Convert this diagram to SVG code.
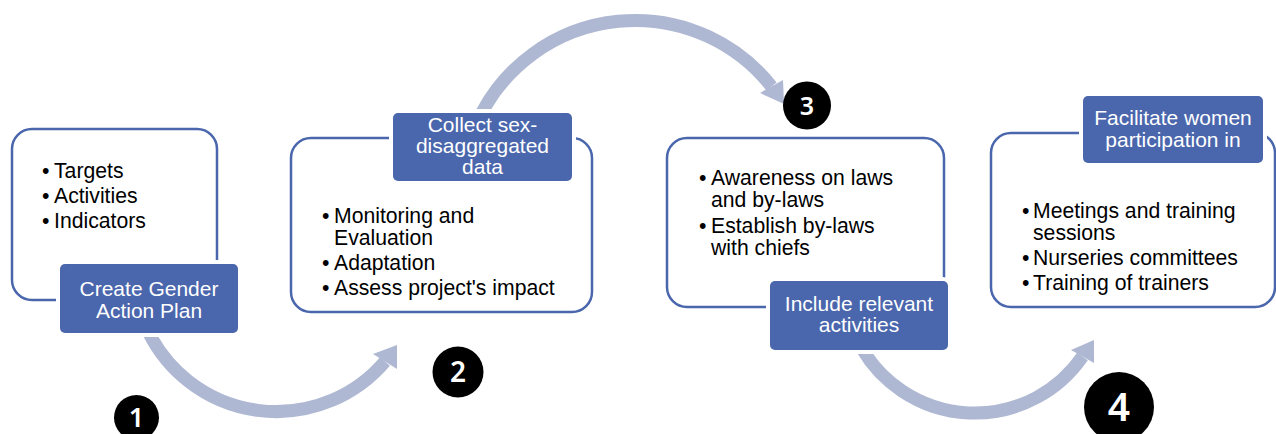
<svg xmlns="http://www.w3.org/2000/svg" width="1276" height="434" viewBox="0 0 1276 434">
  <style>
    .frame{fill:none;stroke:#4a66ac;stroke-width:2.5}
    .tag{fill:#4a66ac;stroke:#fff;stroke-width:8;paint-order:stroke}
    .tag-text{font-family:"Liberation Sans",Arial,sans-serif;font-size:21px;fill:#fff;text-anchor:middle}
    .item{font-family:"Liberation Sans",Arial,sans-serif;font-size:21.2px;fill:#000}
    .flow{fill:none;stroke:#afb8d3;stroke-width:13}
    .head{fill:#afb8d3}
    .badge{fill:#000}
    .num{font-family:"Noto Sans",sans-serif;font-weight:600;fill:#fff;text-anchor:middle}
  </style>
  <defs>
    <clipPath id="cut-low1"><rect x="0" y="336" width="1276" height="98"/></clipPath>
    <clipPath id="cut-high"><rect x="0" y="0" width="1276" height="109"/></clipPath>
    <clipPath id="cut-low3"><rect x="0" y="352" width="1276" height="82"/></clipPath>
  </defs>

  <!-- curved flow arrows between the steps -->
  <g id="connectors">
    <g id="arrow-1-2">
      <path class="flow" clip-path="url(#cut-low1)" d="M147.5 330 A142.7 142.7 0 0 0 385 361.5"/>
      <polygon class="head" points="373,354 397,345 397,369"/>
    </g>
    <g id="arrow-2-3">
      <path class="flow" clip-path="url(#cut-high)" d="M480.7 115 A173.6 173.6 0 0 1 771.5 86.5"/>
      <polygon class="head" points="760,93 783,80 784,104"/>
    </g>
    <g id="arrow-3-4">
      <path class="flow" clip-path="url(#cut-low3)" d="M860.5 346 A130.9 130.9 0 0 0 1082.5 356.5"/>
      <polygon class="head" points="1071,350 1094,340 1094,363"/>
    </g>
  </g>

  <!-- step 1 -->
  <g id="step-1">
    <rect class="frame" x="12" y="129" width="205" height="171" rx="20"/>
    <text class="item" y="178"><tspan x="42">•</tspan><tspan x="54">Targets</tspan></text>
    <text class="item" y="203"><tspan x="42">•</tspan><tspan x="54">Activities</tspan></text>
    <text class="item" y="228"><tspan x="42">•</tspan><tspan x="54">Indicators</tspan></text>
    <rect class="tag" x="60" y="264" width="178" height="69" rx="5"/>
    <text class="tag-text" x="149" y="296">Create Gender</text>
    <text class="tag-text" x="149" y="318">Action Plan</text>
  </g>

  <!-- step 2 -->
  <g id="step-2">
    <rect class="frame" x="291" y="138" width="301" height="174" rx="20"/>
    <text class="item" y="222.5"><tspan x="322">•</tspan><tspan x="334">Monitoring and</tspan></text>
    <text class="item" x="334" y="244.5">Evaluation</text>
    <text class="item" y="269.5"><tspan x="322">•</tspan><tspan x="334">Adaptation</tspan></text>
    <text class="item" y="294.5"><tspan x="322">•</tspan><tspan x="334">Assess project's impact</tspan></text>
    <rect class="tag" x="393" y="113" width="179" height="68" rx="5"/>
    <text class="tag-text" x="482.5" y="132">Collect sex-</text>
    <text class="tag-text" x="482.5" y="153">disaggregated</text>
    <text class="tag-text" x="482.5" y="174">data</text>
  </g>

  <!-- step 3 -->
  <g id="step-3">
    <rect class="frame" x="667" y="138" width="277" height="169" rx="20"/>
    <text class="item" y="185"><tspan x="699">•</tspan><tspan x="711">Awareness on laws</tspan></text>
    <text class="item" x="711" y="207">and by-laws</text>
    <text class="item" y="233"><tspan x="699">•</tspan><tspan x="711">Establish by-laws</tspan></text>
    <text class="item" x="711" y="255">with chiefs</text>
    <rect class="tag" x="770" y="281" width="178" height="69" rx="5"/>
    <text class="tag-text" x="859" y="311">Include relevant</text>
    <text class="tag-text" x="859" y="332">activities</text>
  </g>

  <!-- step 4 -->
  <g id="step-4">
    <rect class="frame" x="991" y="133" width="284" height="174" rx="20"/>
    <text class="item" y="217.5"><tspan x="1022">•</tspan><tspan x="1033">Meetings and training</tspan></text>
    <text class="item" x="1033" y="239.5">sessions</text>
    <text class="item" y="265"><tspan x="1022">•</tspan><tspan x="1033">Nurseries committees</tspan></text>
    <text class="item" y="290"><tspan x="1022">•</tspan><tspan x="1033">Training of trainers</tspan></text>
    <rect class="tag" x="1083" y="96" width="180" height="67" rx="5"/>
    <text class="tag-text" x="1173" y="125">Facilitate women</text>
    <text class="tag-text" x="1173" y="147">participation in</text>
  </g>

  <!-- step numbers -->
  <g id="badge-1">
    <circle class="badge" cx="136.5" cy="417.5" r="22.5"/>
    <text class="num" x="136.5" y="427" font-size="27">1</text>
  </g>
  <g id="badge-2">
    <circle class="badge" cx="458" cy="372" r="25.5"/>
    <text class="num" x="458" y="382" font-size="28">2</text>
  </g>
  <g id="badge-3">
    <circle class="badge" cx="807" cy="105.5" r="24"/>
    <text class="num" x="807" y="114.5" font-size="25">3</text>
  </g>
  <g id="badge-4">
    <circle class="badge" cx="1119" cy="407" r="35"/>
    <text class="num" x="1119" y="420.5" font-size="39">4</text>
  </g>
</svg>
